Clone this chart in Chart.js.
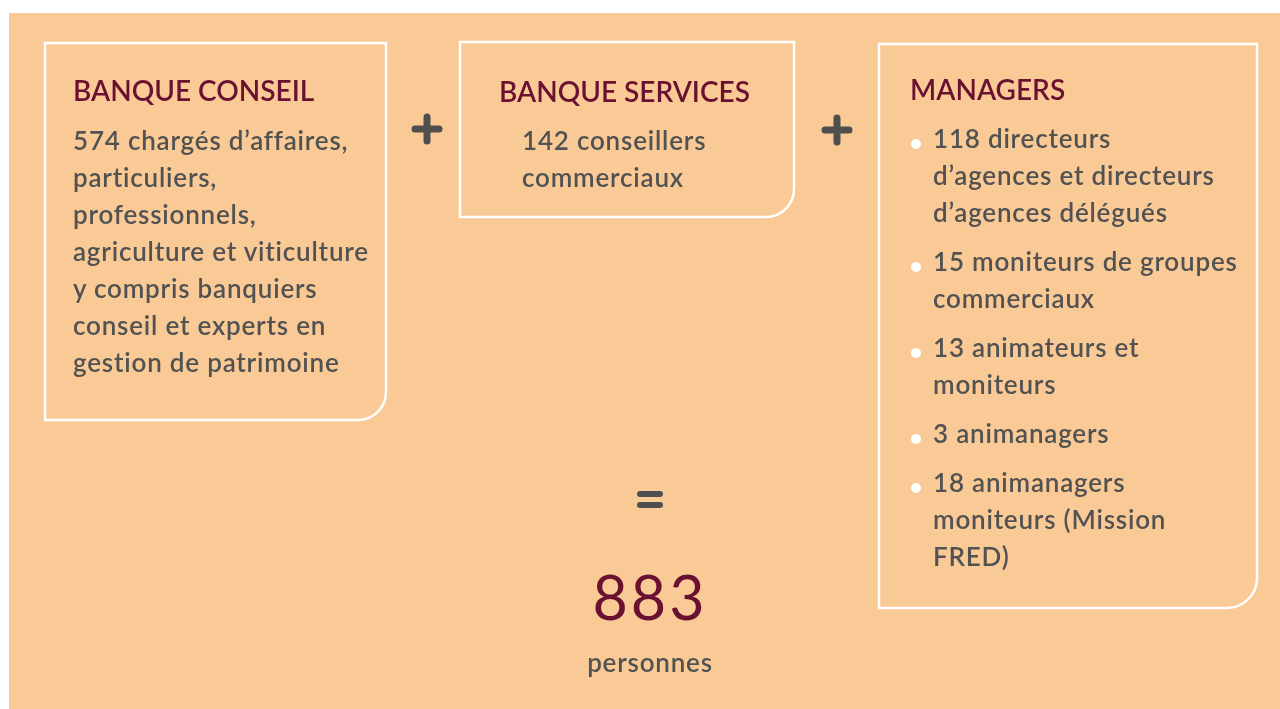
<!DOCTYPE html>
<html lang="fr">
<head>
<meta charset="utf-8">
<title>Effectifs commerciaux</title>
<script src="https://cdn.jsdelivr.net/npm/chart.js@4.4.1/dist/chart.umd.min.js"></script>
<style>
    html, body { margin: 0; padding: 0; background: #ffffff; }
    body { width: 1280px; height: 709px; position: relative; overflow: hidden; font-family: Lato, "Noto Sans", sans-serif; }
    #board { position: absolute; left: 0; top: 0; }
    .txt { position: absolute; white-space: nowrap; }
    .head { color: #6a1131; font-size: 28px; line-height: 28px; font-weight: 600; letter-spacing: 0; }
    .body { color: #525252; font-size: 26px; line-height: 37px; font-weight: 600; letter-spacing: 0.8px; }
    .item { position: relative; margin-bottom: 12px; }
    .item::before { content: ""; position: absolute; left: -22px; top: 19px; width: 10px; height: 10px; border-radius: 50%; background: #ffffff; }
    .total { color: #6a1131; font-size: 61px; line-height: 60px; font-weight: 400; letter-spacing: 3px; text-align: center; width: 300px; }
</style>
</head>
<body>
<canvas id="board" width="1280" height="709"></canvas>
<div id="texts"></div>
<script>
// effectifs
const titles = ['BANQUE CONSEIL', 'BANQUE SERVICES', 'MANAGERS'];
const conseilCount = [574];
const servicesCount = [142];
const managersCount = [118, 15, 13, 3, 18];

const conseilLines = ['chargés d’affaires,', 'particuliers,', 'professionnels,', 'agriculture et viticulture', 'y compris banquiers', 'conseil et experts en', 'gestion de patrimoine'];
const servicesLines = ['conseillers', 'commerciaux'];
const managersLines = [
    ['directeurs', 'd’agences et directeurs', 'd’agences délégués'],
    ['moniteurs de groupes', 'commerciaux'],
    ['animateurs et', 'moniteurs'],
    ['animanagers'],
    ['animanagers', 'moniteurs (Mission', 'FRED)']
];
const totalLabel = 'personnes';

const sum = arr => arr.reduce((a, b) => a + b, 0);
const total = sum(conseilCount) + sum(servicesCount) + sum(managersCount);

// boxes: x, y, w, h, radius of bottom-right corner
const boxes = [
    [45, 43, 341, 377, 28],
    [460, 42, 334, 175, 28],
    [879, 44, 378, 564, 30]
];

function withCount(lines, n) {
    const out = lines.slice();
    out[0] = n + ' ' + out[0];
    return out;
}

const texts = document.getElementById('texts');
function addText(cls, x, y, html) {
    const d = document.createElement('div');
    d.className = 'txt ' + cls;
    d.style.left = x + 'px';
    d.style.top = y + 'px';
    d.innerHTML = html;
    texts.appendChild(d);
    return d;
}

addText('head', 73, 76, titles[0]);
addText('body', 73, 122, withCount(conseilLines, conseilCount[0]).join('<br>'));
addText('head', 499, 77, titles[1]);
addText('body', 522, 122, withCount(servicesLines, servicesCount[0]).join('<br>'));
addText('head', 910, 75, titles[2]);
addText('body', 933, 120, managersLines.map((l, i) =>
    '<div class="item">' + withCount(l, managersCount[i]).join('<br>') + '</div>').join(''));
addText('total', 500, 567, String(total));
addText('body', 500, 644, totalLabel).style.cssText += 'width:300px;text-align:center;';

const frames = {
    id: 'frames',
    beforeDraw(chart) {
        const ctx = chart.ctx;
        ctx.save();
        ctx.fillStyle = '#ffffff';
        ctx.fillRect(0, 0, chart.width, chart.height);
        ctx.fillStyle = '#f9ca96';
        ctx.fillRect(9, 13, chart.width - 9, chart.height - 13);

        ctx.strokeStyle = '#ffffff';
        ctx.lineWidth = 2.5;
        boxes.forEach(([x, y, w, h, r]) => {
            ctx.beginPath();
            ctx.moveTo(x, y);
            ctx.lineTo(x + w, y);
            ctx.lineTo(x + w, y + h - r);
            ctx.arcTo(x + w, y + h, x + w - r, y + h, r);
            ctx.lineTo(x, y + h);
            ctx.closePath();
            ctx.stroke();
        });

        ctx.strokeStyle = '#4f4f4f';
        ctx.lineCap = 'round';
        ctx.lineWidth = 7;
        [[427, 129], [837, 130]].forEach(([cx, cy]) => {
            ctx.beginPath();
            ctx.moveTo(cx - 12, cy); ctx.lineTo(cx + 12, cy);
            ctx.moveTo(cx, cy - 12); ctx.lineTo(cx, cy + 12);
            ctx.stroke();
        });
        ctx.lineWidth = 6;
        ctx.beginPath();
        ctx.moveTo(640, 494); ctx.lineTo(660, 494);
        ctx.moveTo(640, 505); ctx.lineTo(660, 505);
        ctx.stroke();
        ctx.restore();
    }
};

new Chart(document.getElementById('board'), {
    type: 'bar',
    data: { labels: [], datasets: [] },
    options: {
        responsive: false,
        animation: false,
        events: [],
        plugins: { legend: { display: false }, tooltip: { enabled: false } },
        scales: { x: { display: false }, y: { display: false } }
    },
    plugins: [frames]
});
</script>
</body>
</html>
